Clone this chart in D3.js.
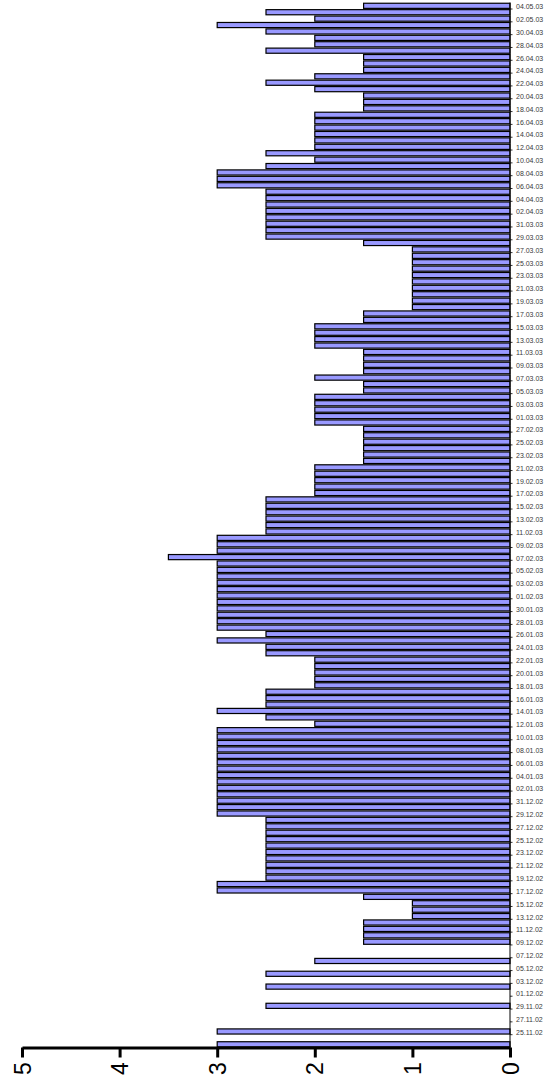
<!DOCTYPE html>
<html>
<head>
<meta charset="utf-8">
<script src="https://cdn.jsdelivr.net/npm/d3@7"></script>
<style>
  body { margin: 0; background: #fff; }
  svg { font-family: "Liberation Sans", Arial, sans-serif; }
</style>
</head>
<body>
<svg id="chart" width="548" height="1080"></svg>
<script>
// daily values, one array per month (null = no bar that day)
var valsNov = [3, null, 3, null, null, null, 2.5, null];                 // 23.11 - 30.11
var valsDec = [null, 2.5, null, 2.5, null, 2, null, null, 1.5, 1.5,
               1.5, 1.5, 1, 1, 1, 1.5, 3, 3, 2.5, 2.5,
               2.5, 2.5, 2.5, 2.5, 2.5, 2.5, 2.5, 2.5, 3, 3, 3];
var valsJan = [3, 3, 3, 3, 3, 3, 3, 3, 3, 3,
               3, 2, 2.5, 3, 2.5, 2.5, 2.5, 2, 2, 2,
               2, 2, 2.5, 2.5, 3, 2.5, 3, 3, 3, 3, 3];
var valsFeb = [3, 3, 3, 3, 3, 3, 3.5, 3, 3, 3,
               2.5, 2.5, 2.5, 2.5, 2.5, 2.5, 2, 2, 2, 2,
               2, 1.5, 1.5, 1.5, 1.5, 1.5, 1.5, 2];
var valsMar = [2, 2, 2, 2, 1.5, 1.5, 2, 1.5, 1.5, 1.5,
               1.5, 2, 2, 2, 2, 1.5, 1.5, 1, 1, 1,
               1, 1, 1, 1, 1, 1, 1, 1.5, 2.5, 2.5, 2.5];
var valsApr = [2.5, 2.5, 2.5, 2.5, 2.5, 3, 3, 3, 2.5, 2,
               2.5, 2, 2, 2, 2, 2, 2, 1.5, 1.5, 1.5,
               2, 2.5, 2, 1.5, 1.5, 1.5, 2.5, 2, 2, 2.5];
var valsMay = [3, 2, 2.5, 1.5];                                           // 01.05 - 04.05

var firstDay = new Date(2002, 10, 23);
var lastDay = new Date(2003, 4, 4);
var valueTicks = [0, 1, 2, 3, 4, 5];

var values = [].concat(valsNov, valsDec, valsJan, valsFeb, valsMar, valsApr, valsMay);
var days = d3.timeDay.range(firstDay, d3.timeDay.offset(lastDay, 1));
var data = days.map(function(d, i) { return { date: d, value: values[i] }; });

var svg = d3.select("#chart");
var fmt = d3.timeFormat("%d.%m.%y");

// -------- scales --------
var xScale = d3.scaleLinear().domain([0, 5]).range([510, 22]);
var yScale = d3.scaleBand()
    .domain(days.slice().reverse())
    .range([2.6, 1047.5])
    .paddingInner(0.2)
    .paddingOuter(0.1);

// -------- bars --------
svg.append("g").selectAll("rect")
    .data(data.filter(function(d) { return d.value != null; }))
  .enter().append("rect")
    .attr("x", function(d) { return xScale(d.value); })
    .attr("y", function(d) { return yScale(d.date); })
    .attr("width", function(d) { return xScale(0) - xScale(d.value); })
    .attr("height", yScale.bandwidth())
    .style("fill", "#9999ff")
    .style("stroke", "#000")
    .style("stroke-width", 1.2);

// -------- date axis (right) --------
var labelDays = days.filter(function(d, i) { return i > 0 && i % 2 == 0; });
var step = yScale.step();

var dateAxis = svg.append("g").attr("transform", "translate(510,0)");
dateAxis.append("line")
    .attr("x1", 0).attr("x2", 0)
    .attr("y1", 2.6).attr("y2", 1047.5)
    .style("stroke", "#000").style("stroke-width", 1);

dateAxis.selectAll("line.tk")
    .data(labelDays)
  .enter().append("line")
    .attr("class", "tk")
    .attr("x1", 0).attr("x2", 2.5)
    .attr("y1", function(d) { return yScale(d) + yScale.bandwidth() + step * 0.1; })
    .attr("y2", function(d) { return yScale(d) + yScale.bandwidth() + step * 0.1; })
    .style("stroke", "#000").style("stroke-width", 0.8);

dateAxis.selectAll("text")
    .data(labelDays)
  .enter().append("text")
    .attr("x", 6)
    .attr("y", function(d) { return yScale(d) + yScale.bandwidth() / 2 + 1; })
    .attr("dy", "0.35em")
    .style("font-size", "7px")
    .style("fill", "#3a3a3a")
    .text(function(d) { return fmt(d); });

// -------- value axis (bottom) --------
var valueAxis = svg.append("g")
    .attr("transform", "translate(0,1047.5)")
    .call(d3.axisBottom(xScale)
            .tickValues(valueTicks)
            .tickFormat(d3.format("d"))
            .tickSize(10)
            .tickSizeOuter(0));

valueAxis.select(".domain").style("stroke-width", 3);
valueAxis.selectAll(".tick line").style("stroke-width", 3);
valueAxis.selectAll(".tick text")
    .attr("y", 0).attr("dy", 0)
    .attr("transform", "translate(0,21) rotate(-90)")
    .attr("dominant-baseline", "central")
    .style("text-anchor", "middle")
    .style("font-size", "23px")
    .style("font-family", "'Liberation Sans', Arial, sans-serif")
    .style("fill", "#000");
</script>
</body>
</html>
